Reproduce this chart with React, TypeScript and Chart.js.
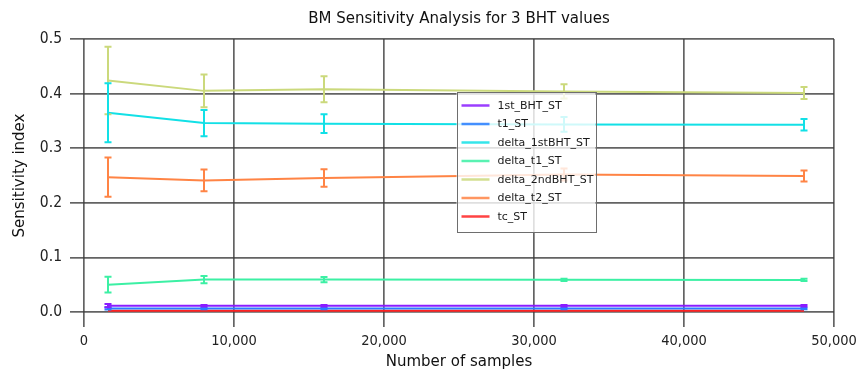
import { useEffect, useRef } from "react";
import { Chart, registerables } from "chart.js";

Chart.register(...registerables);

// Number of samples used for each sensitivity estimate
const sampleCounts = [1600, 8000, 16000, 32000, 48000];

const seriesNames = [
  "1st_BHT_ST",
  "t1_ST",
  "delta_1stBHT_ST",
  "delta_t1_ST",
  "delta_2ndBHT_ST",
  "delta_t2_ST",
  "tc_ST",
];

const seriesColors = [
  "#8a1cff",
  "#2a7dff",
  "#12e0e6",
  "#3cf0a4",
  "#cbd97c",
  "#ff8445",
  "#ff2222",
];

// Total-order sensitivity indices and their error half-widths
const firstBhtST = [0.0115, 0.0115, 0.0115, 0.0115, 0.0115];
const firstBhtErr = [0.003, 0.0015, 0.0015, 0.0015, 0.0015];
const t1ST = [0.0065, 0.0065, 0.0065, 0.0065, 0.0065];
const t1Err = [0.002, 0.0015, 0.0015, 0.0015, 0.0015];
const deltaFirstBhtST = [0.365, 0.346, 0.345, 0.3435, 0.343];
const deltaFirstBhtErr = [0.054, 0.024, 0.017, 0.0135, 0.0105];
const deltaT1ST = [0.05, 0.0593, 0.0593, 0.059, 0.0588];
const deltaT1Err = [0.0145, 0.0065, 0.005, 0.002, 0.002];
const deltaSecondBhtST = [0.424, 0.405, 0.408, 0.404, 0.401];
const deltaSecondBhtErr = [0.062, 0.03, 0.024, 0.013, 0.011];
const deltaT2ST = [0.247, 0.241, 0.2455, 0.252, 0.249];
const deltaT2Err = [0.036, 0.02, 0.016, 0.011, 0.01];
const tcST = [0.0022, 0.0022, 0.0022, 0.0022, 0.0022];
const tcErr = [0, 0, 0, 0, 0];

const seriesValues = [firstBhtST, t1ST, deltaFirstBhtST, deltaT1ST, deltaSecondBhtST, deltaT2ST, tcST];
const seriesErrors = [firstBhtErr, t1Err, deltaFirstBhtErr, deltaT1Err, deltaSecondBhtErr, deltaT2Err, tcErr];

const yTicks = [0, 0.1, 0.2, 0.3, 0.4, 0.5];

const TICK_FONT = "'DejaVu Sans Condensed', 'DejaVu Sans', sans-serif";
const TEXT_FONT = "'DejaVu Sans', sans-serif";

// Vertical error bars with short caps, drawn from each dataset's "errors" array
const errorBarPlugin = {
  id: "errorBars",
  afterDatasetsDraw(chart: any) {
    const { ctx } = chart;
    const yScale = chart.scales.y;
    const order = chart.data.datasets.map((_: any, i: number) => i).reverse();
    for (const i of order) {
      const ds = chart.data.datasets[i];
      const meta = chart.getDatasetMeta(i);
      const errs: number[] = ds.errors || [];
      ctx.save();
      ctx.strokeStyle = ds.borderColor;
      ctx.lineWidth = 2;
      meta.data.forEach((pt: any, j: number) => {
        const v = ds.data[j].y;
        const e = errs[j] || 0;
        if (!e) return;
        const yTop = yScale.getPixelForValue(v + e);
        const yBot = yScale.getPixelForValue(v - e);
        const x = pt.x;
        const cap = 3.5;
        ctx.beginPath();
        ctx.moveTo(x, yTop);
        ctx.lineTo(x, yBot);
        ctx.moveTo(x - cap, yTop);
        ctx.lineTo(x + cap, yTop);
        ctx.moveTo(x - cap, yBot);
        ctx.lineTo(x + cap, yBot);
        ctx.stroke();
      });
      ctx.restore();
    }
  },
};

// Boxed legend floating over the middle of the plot
const floatingLegendPlugin = {
  id: "floatingLegend",
  afterDraw(chart: any) {
    const { ctx, chartArea } = chart;
    const left = chartArea.left + 372.5;
    const top = chartArea.top + 53;
    const w = 139;
    const h = 140;
    ctx.save();
    ctx.fillStyle = "rgba(255,255,255,0.8)";
    ctx.fillRect(left, top, w, h);
    ctx.strokeStyle = "#6e6e6e";
    ctx.lineWidth = 1;
    ctx.strokeRect(Math.round(left) + 0.5, Math.round(top) + 0.5, w, h);
    ctx.font = `11px ${TEXT_FONT}`;
    ctx.textBaseline = "middle";
    ctx.textAlign = "left";
    chart.data.datasets.forEach((ds: any, i: number) => {
      const y = top + 13.5 + i * 18.5;
      ctx.strokeStyle = ds.borderColor;
      ctx.globalAlpha = 0.85;
      ctx.lineWidth = 2.5;
      ctx.beginPath();
      ctx.moveTo(left + 5, y);
      ctx.lineTo(left + 33, y);
      ctx.stroke();
      ctx.globalAlpha = 1;
      ctx.fillStyle = "#1a1a1a";
      ctx.fillText(ds.label, left + 41, y + 0.5);
    });
    ctx.restore();
  },
};

export default function App() {
  const canvasRef = useRef<HTMLCanvasElement | null>(null);

  useEffect(() => {
    if (!canvasRef.current) return;
    const gridColor = "rgba(60,60,60,0.8)";
    const chart = new Chart(canvasRef.current, {
      type: "line",
      data: {
        datasets: seriesNames.map((name, i) => ({
          label: name,
          data: sampleCounts.map((x, j) => ({ x, y: seriesValues[i][j] })),
          errors: seriesErrors[i],
          borderColor: seriesColors[i],
          backgroundColor: seriesColors[i],
          borderWidth: 2,
          pointRadius: 0,
          pointHoverRadius: 0,
          tension: 0,
          fill: false,
        })) as any,
      },
      options: {
        animation: false,
        responsive: false,
        devicePixelRatio: 1,
        events: [],
        layout: { padding: { left: 0, right: 23, top: 0, bottom: 0 } },
        plugins: {
          legend: { display: false },
          tooltip: { enabled: false },
          title: {
            display: true,
            fullSize: false,
            text: "BM Sensitivity Analysis for 3 BHT values",
            color: "#111",
            font: { family: TEXT_FONT, size: 15, weight: "normal" as any },
            padding: { top: 10, bottom: 11 },
          },
        },
        scales: {
          x: {
            type: "linear",
            min: 0,
            max: 50000,
            ticks: {
              stepSize: 10000,
              color: "#222",
              font: { family: TICK_FONT, size: 14.5 },
              padding: 6,
              maxRotation: 0,
            },
            grid: { color: gridColor, lineWidth: 1.7, tickLength: 15, tickColor: gridColor },
            border: { display: false },
            title: {
              display: true,
              text: "Number of samples",
              color: "#111",
              font: { family: TEXT_FONT, size: 15 },
              padding: { top: 0, bottom: -2 },
            },
            afterFit(scale: any) {
              scale.height = 57;
              scale.paddingLeft = 0;
              scale.paddingRight = 0;
            },
          },
          y: {
            type: "linear",
            min: 0,
            max: 0.5,
            afterBuildTicks(scale: any) {
              scale.ticks = yTicks.map((v) => ({ value: v }));
            },
            ticks: {
              color: "#222",
              font: { family: TICK_FONT, size: 15.5 },
              padding: 8,
              callback: (v: any) => Number(v).toFixed(1),
            },
            grid: { color: gridColor, lineWidth: 1.7, tickLength: 14, tickColor: gridColor },
            border: { display: false },
            title: {
              display: true,
              text: "Sensitivity index",
              color: "#111",
              font: { family: TEXT_FONT, size: 15 },
              padding: { top: 11, bottom: 0 },
            },
            afterFit(scale: any) {
              scale.width = 84;
              scale.paddingTop = 0;
              scale.paddingBottom = 0;
            },
          },
        },
      } as any,
      plugins: [errorBarPlugin, floatingLegendPlugin],
    });
    return () => chart.destroy();
  }, []);

  return (
    <div style={{ position: "absolute", left: 0, top: 0, width: 857, height: 369, background: "#fff" }}>
      <canvas ref={canvasRef} width={857} height={369} style={{ display: "block" }} />
    </div>
  );
}
